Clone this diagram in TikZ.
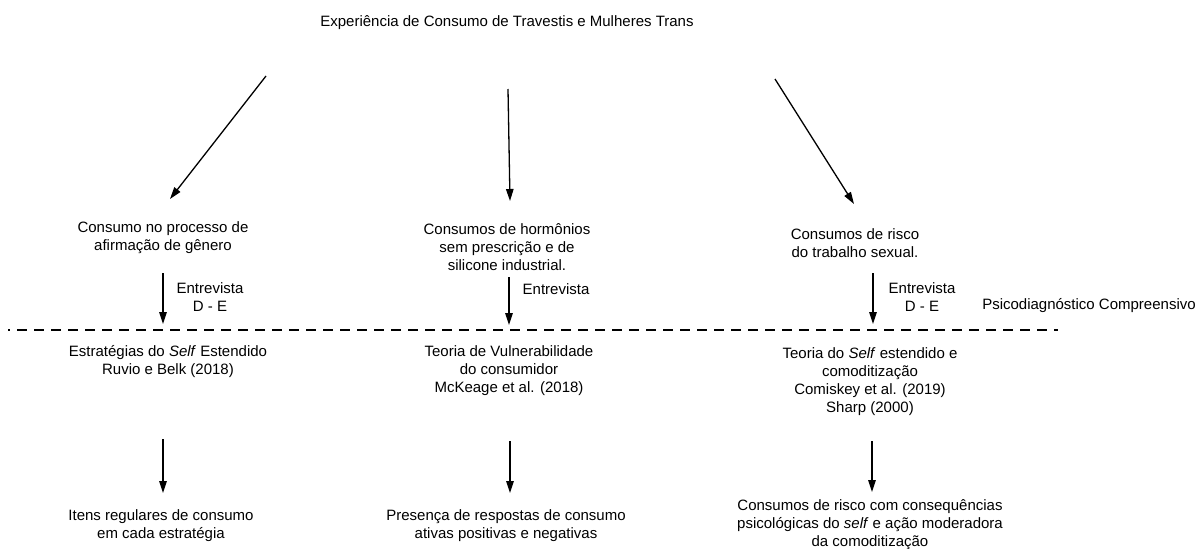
\documentclass[tikz,border=0pt]{standalone}
\usepackage{fontspec}
\setmainfont{Liberation Sans}
\usetikzlibrary{arrows.meta}
\begin{document}
\begin{tikzpicture}[x=1pt,y=-1pt,
  lbl/.style={align=center, inner sep=0pt, font=\fontsize{15}{18}\selectfont},
  arr/.style={-{Triangle[length=12pt,width=7.5pt]}, line width=1.3pt},
  sep/.style={line width=1.3pt, dash pattern=on 10pt off 7pt, dash phase=8pt}]
\useasboundingbox (0,0) rectangle (1203,549);

% title
\node[lbl] (title) at (507,23) {Experiência de Consumo de Travestis e Mulheres Trans};

% level 1
\node[lbl] (c1) at (163,238) {Consumo no processo de\\afirmação de gênero};
\node[lbl] (c2) at (507,247) {Consumos de hormônios\\sem prescrição e de\\silicone industrial.};
\node[lbl] (c3) at (855,243) {Consumos de risco\\do trabalho sexual.};

% interview labels
\node[lbl] (e1) at (210,297) {Entrevista\\D - E};
\node[lbl] (e2) at (556,289) {Entrevista};
\node[lbl] (e3) at (922,297) {Entrevista\\D - E};
\node[lbl] (psi) at (1089,306) {Psicodiagnóstico Compreensivo};

% level 2
\node[lbl] (t1) at (168,362) {Estratégias do \textit{Self} Estendido\\Ruvio e Belk (2018)};
\node[lbl] (t2) at (509,371) {Teoria de Vulnerabilidade\\do consumidor\\McKeage et al. (2018)};
\node[lbl] (t3) at (870,382) {Teoria do \textit{Self} estendido e\\comoditização\\Comiskey et al. (2019)\\Sharp (2000)};

% level 3
\node[lbl] (r1) at (161,526) {Itens regulares de consumo\\em cada estratégia};
\node[lbl] (r2) at (506,526) {Presença de respostas de consumo\\ativas positivas e negativas};
\node[lbl] (r3) at (870,525) {Consumos de risco com consequências\\psicológicas do \textit{self} e ação moderadora\\da comoditização};

% arrow end points
\coordinate (a1s) at (266,76);  \coordinate (a1e) at (170,199);
\coordinate (a2s) at (508,89);  \coordinate (a2e) at (510,201);
\coordinate (a3s) at (775,79);  \coordinate (a3e) at (854,204);
\coordinate (b1s) at (163,273); \coordinate (b1e) at (163,324);
\coordinate (b2s) at (509,277); \coordinate (b2e) at (509,325);
\coordinate (b3s) at (873,273); \coordinate (b3e) at (873,324);
\coordinate (d1s) at (163,439); \coordinate (d1e) at (163,493);
\coordinate (d2s) at (510,441); \coordinate (d2e) at (510,493);
\coordinate (d3s) at (872,441); \coordinate (d3e) at (872,492);
\coordinate (ls) at (8,330);    \coordinate (le) at (1058,330);

\draw[arr] (a1s) -- (a1e);
\draw[arr] (a2s) -- (a2e);
\draw[arr] (a3s) -- (a3e);
\draw[arr] (b1s) -- (b1e);
\draw[arr] (b2s) -- (b2e);
\draw[arr] (b3s) -- (b3e);
\draw[arr] (d1s) -- (d1e);
\draw[arr] (d2s) -- (d2e);
\draw[arr] (d3s) -- (d3e);
\draw[sep] (ls) -- (le);
\end{tikzpicture}
\end{document}
